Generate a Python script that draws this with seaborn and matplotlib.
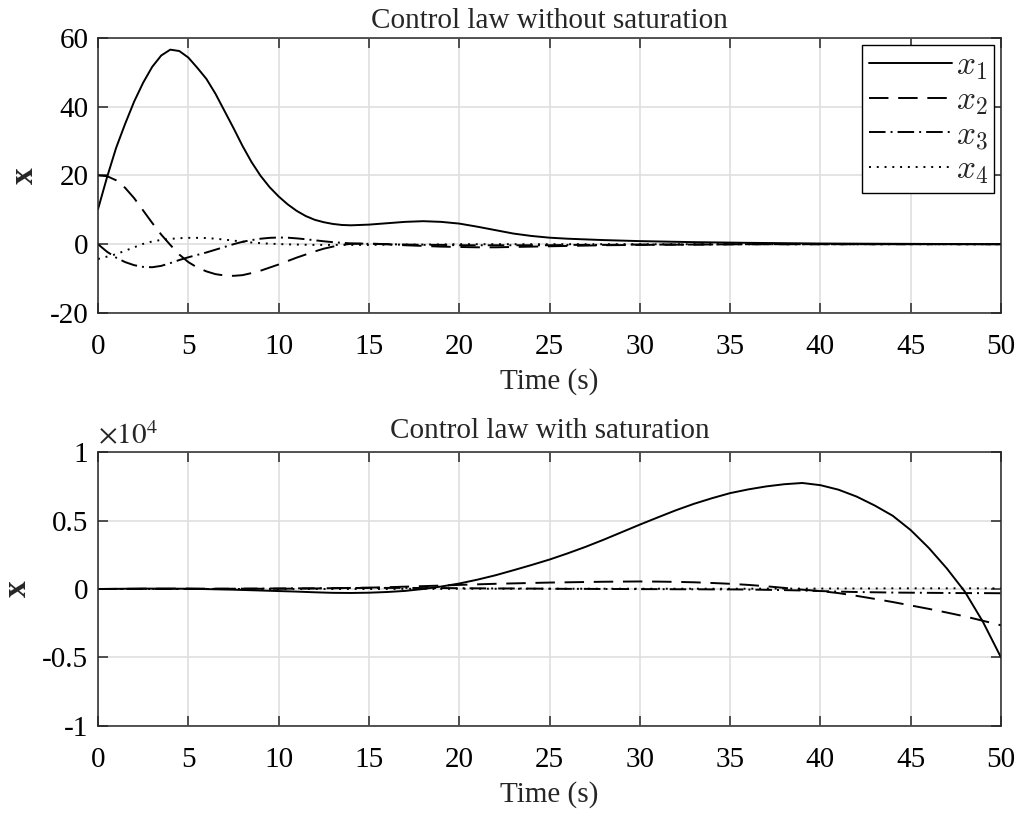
import numpy as np
import pandas as pd
import matplotlib
matplotlib.use("Agg")
import matplotlib.pyplot as plt
from matplotlib.ticker import FuncFormatter, MultipleLocator
import seaborn as sns

# ---------------- data ----------------
t_top = [0, 0.5, 1, 1.5, 2, 2.5, 3, 3.5, 4, 4.5, 5, 5.5, 6, 6.5, 7, 7.5, 8, 8.5, 9, 9.5,
         10, 10.5, 11, 11.5, 12, 12.5, 13, 13.5, 14,
         15, 16, 17, 18, 19, 20, 21, 22, 23, 24, 25, 26,
         28, 30, 33, 36, 40, 45, 50]
x1_top = [10.2, 19.5, 28, 35, 41.5, 47, 51.6, 54.9, 56.6, 56.2, 54.3, 51.3, 48.1, 43.8, 38.8, 33.8, 28.6, 23.9, 19.9, 16.6,
          13.9, 11.6, 9.7, 8.2, 7.1, 6.4, 5.9, 5.6, 5.5,
          5.7, 6.1, 6.5, 6.7, 6.5, 6.0, 5.1, 4.1, 3.1, 2.4, 1.9, 1.6,
          1.2, 0.9, 0.6, 0.4, 0.2, 0.1, 0.0]
x2_top = [20, 19.8, 18.6, 16.4, 13.4, 9.8, 6.2, 2.8, -0.2, -3.0, -5.2, -6.8, -7.9, -8.7, -9.1, -9.2, -9.0, -8.4, -7.7, -6.8,
          -5.9, -4.9, -3.9, -3.0, -2.1, -1.3, -0.7, -0.2, 0.1,
          0.2, 0.0, -0.3, -0.5, -0.7, -0.8, -0.9, -0.9, -0.8, -0.7, -0.6, -0.5,
          -0.3, -0.2, -0.1, 0.0, 0.0, 0.0, 0.0]
x3_top = [0, -2.2, -3.9, -5.2, -6.1, -6.6, -6.7, -6.3, -5.5, -4.6, -3.8, -3.1, -2.4, -1.6, -0.8, 0.0, 0.7, 1.2, 1.6, 1.85,
          1.95, 1.9, 1.7, 1.45, 1.15, 0.85, 0.6, 0.4, 0.25,
          0.1, 0.0, -0.1, -0.2, -0.2, -0.3, -0.3, -0.3, -0.3, -0.3, -0.3, -0.2,
          -0.2, -0.1, -0.1, 0.0, 0.0, 0.0, 0.0]
x4_top = [-4.3, -3.6, -2.9, -1.9, -0.9, 0.1, 0.8, 1.25, 1.55, 1.75, 1.85, 1.85, 1.8, 1.6, 1.35, 1.05, 0.75, 0.5, 0.3, 0.15,
          0.05, -0.05, -0.1, -0.15, -0.2, -0.2, -0.2, -0.2, -0.2,
          -0.2, -0.15, -0.1, -0.1, -0.05, 0, 0, 0, 0, 0, 0, 0,
          0, 0, 0, 0, 0, 0, 0]

# bottom panel values in units of 1e4
SCALE = 1e4
t_bot = [0, 2.5, 5, 7.5, 10, 11, 12, 13, 14, 15, 16, 17, 18, 19, 20, 21, 22, 23, 24, 25,
         26, 27, 28, 29, 30, 31, 32, 33, 34, 35, 36, 37, 38, 39, 40,
         41, 42, 43, 44, 45, 46, 47, 48, 49, 50]
x1_bot = [0, 0.003, 0.002, -0.005, -0.015, -0.019, -0.024, -0.028, -0.029, -0.027, -0.022, -0.014, 0.0, 0.018, 0.04,
          0.068, 0.10, 0.137, 0.175, 0.215, 0.26, 0.308, 0.36, 0.415, 0.47, 0.523, 0.575, 0.622, 0.663, 0.70,
          0.727, 0.749, 0.765, 0.774, 0.758, 0.725, 0.675, 0.61, 0.535, 0.43, 0.30, 0.15, -0.02, -0.24, -0.5]
x2_bot = [0, 0.002, 0.003, 0.002, 0.002, 0.003, 0.004, 0.006, 0.008, 0.01, 0.013, 0.017, 0.021, 0.025, 0.03,
          0.034, 0.038, 0.041, 0.044, 0.047, 0.049, 0.051, 0.053, 0.054, 0.055, 0.054, 0.052, 0.049, 0.044, 0.038,
          0.03, 0.02, 0.008, -0.005, -0.015, -0.03, -0.05, -0.072, -0.095, -0.12, -0.145, -0.172, -0.20, -0.232, -0.265]
x3_bot = [0, 0, 0, 0.002, 0.004, 0.005, 0.005, 0.006, 0.007, 0.008, 0.008, 0.008, 0.007, 0.007, 0.006,
          0.005, 0.004, 0.004, 0.003, 0.002, 0.001, 0.001, 0.0, 0.0, -0.001, -0.001, -0.002, -0.002, -0.003, -0.003,
          -0.004, -0.006, -0.008, -0.011, -0.015, -0.019, -0.022, -0.024, -0.026, -0.027, -0.028, -0.029, -0.03, -0.03, -0.031]
x4_bot = [0, 0, 0, 0, 0, 0, 0, 0, 0, 0, 0, 0.001, 0.001, 0.001, 0.002,
          0.002, 0.002, 0.002, 0.002, 0.002, 0.002, 0.002, 0.002, 0.002, 0.002, 0.002, 0.002, 0.002, 0.002, 0.002,
          0.002, 0.003, 0.003, 0.003, 0.003, 0.004, 0.004, 0.004, 0.005, 0.005, 0.005, 0.005, 0.005, 0.005, 0.005]

labels = ["$x_1$", "$x_2$", "$x_3$", "$x_4$"]
titles = ["Control law without saturation", "Control law with saturation"]

# ---------------- style ----------------
sns.set_theme(style="white")
plt.rcParams["font.family"] = ["Liberation Serif", "DejaVu Serif"]
plt.rcParams["axes.unicode_minus"] = False

FS = 21
LW = 1.4
styles = ["-", (0, (10, 5)), (0, (8.5, 2.6, 1.0, 2.6)), (0, (1.0, 3.0))]
SPINE = "#262626"
GRID = "#dfdfdf"

fig = plt.figure(figsize=(10.2, 8.18), dpi=100)
ax1 = fig.add_axes([0.0961, 0.6174, 0.8853, 0.3362])
ax2 = fig.add_axes([0.0961, 0.1125, 0.8853, 0.3349])


def style_axes(ax):
    ax.set_xlim(0, 50)
    ax.xaxis.set_major_locator(MultipleLocator(5))
    ax.grid(True, color=GRID, linewidth=1.2)
    ax.set_axisbelow(True)
    for s in ax.spines.values():
        s.set_color(SPINE)
        s.set_linewidth(1.1)
        s.set_visible(True)
    ax.tick_params(direction="in", length=7, width=1.1, color=SPINE,
                   top=True, right=True, bottom=True, left=True,
                   labelsize=FS, labelcolor="black")
    ax.tick_params(axis="x", pad=15)
    ax.tick_params(axis="y", pad=7)
    ax.set_xlabel("Time (s)", fontsize=FS, labelpad=6)
    ax.set_ylabel("x", fontsize=24, fontweight="bold", labelpad=7)


# top panel
top_series = [x1_top, x2_top, x3_top, x4_top]
for vals, ls, lab in zip(top_series, styles, labels):
    sns.lineplot(x=t_top, y=vals, ax=ax1, color="black", linewidth=LW,
                 linestyle=ls, label=lab, legend=False, estimator=None, sort=False)
style_axes(ax1)
ax1.set_ylim(-20, 60)
ax1.yaxis.set_major_locator(MultipleLocator(20))
ax1.yaxis.set_major_formatter(FuncFormatter(lambda v, p: f"{v:g}"))
ax1.xaxis.set_major_formatter(FuncFormatter(lambda v, p: f"{v:g}"))
ax1.set_title(titles[0], fontsize=FS, pad=7)

h, l = ax1.get_legend_handles_labels()
leg = ax1.legend(h, l, loc="upper right", frameon=True, fancybox=False,
                 edgecolor="black", framealpha=1, handlelength=2.5, handletextpad=0.1,
                 labelspacing=0.1, borderpad=0.2, borderaxespad=0.2,
                 prop={"size": 24, "math_fontfamily": "cm"})
leg.get_frame().set_linewidth(1.0)

# bottom panel
bot_series = [x1_bot, x2_bot, x3_bot, x4_bot]
for vals, ls in zip(bot_series, styles):
    sns.lineplot(x=t_bot, y=np.array(vals) * SCALE, ax=ax2, color="black", linewidth=LW,
                 linestyle=ls, legend=False, estimator=None, sort=False)
style_axes(ax2)
ax2.set_ylim(-1 * SCALE, 1 * SCALE)
ax2.yaxis.set_major_locator(MultipleLocator(0.5 * SCALE))
ax2.yaxis.set_major_formatter(FuncFormatter(lambda v, p: f"{v / SCALE:g}"))
ax2.xaxis.set_major_formatter(FuncFormatter(lambda v, p: f"{v:g}"))
ax2.set_title(titles[1], fontsize=FS, pad=10)
ax2.text(0.0, 1.005, r"$\times10^{4}$", transform=ax2.transAxes, ha="left", va="bottom",
         fontsize=FS, math_fontfamily="stix")

fig.savefig("out.png", dpi=100)
